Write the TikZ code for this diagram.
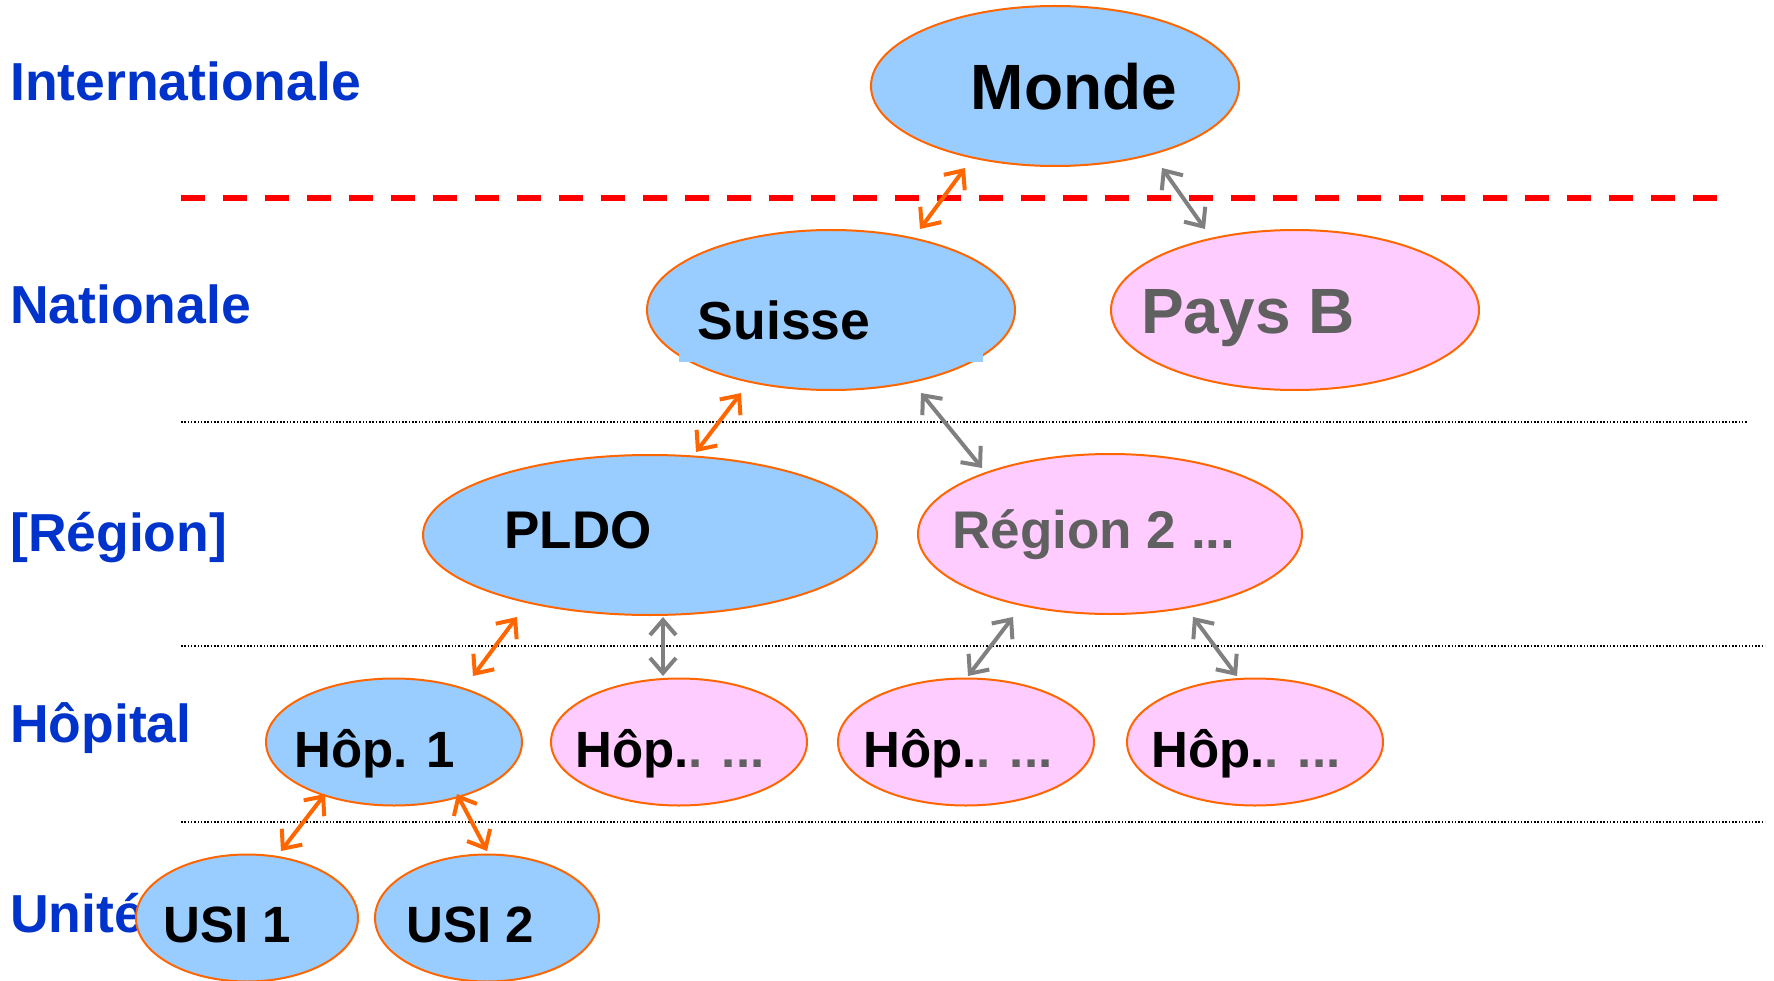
\documentclass[tikz,border=0pt]{standalone}
\usepackage{fontspec}
\setmainfont{Liberation Sans}
\usetikzlibrary{shapes.geometric,arrows.meta}
\definecolor{lblue}{HTML}{99CCFF}
\definecolor{lpink}{HTML}{FFCCFF}
\definecolor{bord}{HTML}{FF6600}
\definecolor{gtext}{HTML}{606060}
\definecolor{garrow}{HTML}{808080}
\definecolor{lvl}{HTML}{0033CC}
\definecolor{dred}{HTML}{FF0000}
\begin{document}
\begin{tikzpicture}[x=1pt,y=-1pt,
  blob/.style={ellipse, draw=bord, line width=2pt, inner sep=0pt},
  bluebl/.style={blob, fill=lblue},
  pinkbl/.style={blob, fill=lpink},
  lvllabel/.style={anchor=base west, inner sep=0pt, text=lvl, font=\fontsize{53.5}{60}\selectfont\bfseries},
  txt/.style={anchor=base, inner sep=0pt, font=\fontsize{#1}{#1}\selectfont\bfseries},
  link/.style={line width=4pt, line cap=round, line join=round,
    {Straight Barb[length=15pt,width=26pt]}-{Straight Barb[length=15pt,width=26pt]}},
  olink/.style={link, draw=bord},
  glink/.style={link, draw=garrow},
  sepline/.style={line width=1.3pt, dash pattern=on 1.5pt off 1.8pt},
  bigsep/.style={draw=dred, line width=6.5pt, dash pattern=on 24pt off 18pt}
]
\useasboundingbox (0,0) rectangle (1774,981);

% level labels
\node[lvllabel] (lint) at (10,101) {Internationale};
\node[lvllabel] (lnat) at (10,324) {Nationale};
\node[lvllabel] (lreg) at (10,551) {[Région]};
\node[lvllabel] (lhop) at (10,742) {Hôpital};
\node[lvllabel] (luni) at (10,932) {Unité};

% separators
\draw[bigsep] (181,198) -- (1720,198);
\draw[sepline] (181,422) -- (1748,422);
\draw[sepline] (181,646) -- (1765,646);
\draw[sepline] (181,822) -- (1765,822);

% ellipses
\node[bluebl, minimum width=368pt, minimum height=160pt] (monde) at (1055,86) {};
\node[bluebl, minimum width=368pt, minimum height=160pt] (suisse) at (831,310) {};
\fill[lblue] (679,280) rectangle (983,362);
\node[pinkbl, minimum width=368pt, minimum height=160pt] (paysb) at (1295,310) {};
\node[bluebl, minimum width=454pt, minimum height=160pt] (pldo) at (650,535) {};
\node[pinkbl, minimum width=384pt, minimum height=160pt] (reg2) at (1110,534) {};
\node[bluebl, minimum width=256pt, minimum height=127pt] (hop1) at (394,742) {};
\node[pinkbl, minimum width=256pt, minimum height=127pt] (hop2) at (679,742) {};
\node[pinkbl, minimum width=256pt, minimum height=127pt] (hop3) at (966,742) {};
\node[pinkbl, minimum width=256pt, minimum height=127pt] (hop4) at (1255,742) {};
\node[bluebl, minimum width=222pt, minimum height=127pt] (usi1) at (247,918) {};
\node[bluebl, minimum width=224pt, minimum height=127pt] (usi2) at (487,918) {};

% texts
\node[txt=64] (tmonde) at (1074,110) {Monde};
\node[txt=53.5] (tsuisse) at (784,340) {Suisse};
\node[txt=64, text=gtext] (tpaysb) at (1248,334) {Pays B};
\node[txt=53] (tpldo) at (578,548) {PLDO};
\node[txt=53, text=gtext] (treg2) at (1094,548) {Région 2 ...};
\node[txt=51] (thop1) at (375,767) {Hôp. 1};
\node[txt=51] (thop2) at (670,767) {Hôp.\textcolor{gtext}{. ...}};
\node[txt=51] (thop3) at (958,767) {Hôp.\textcolor{gtext}{. ...}};
\node[txt=51] (thop4) at (1246,767) {Hôp.\textcolor{gtext}{. ...}};
\node[txt=51] (tusi1) at (227,942) {USI 1};
\node[txt=51] (tusi2) at (470,942) {USI 2};

% connector ends
\coordinate (m-s) at (965,168);  \coordinate (s-m) at (920,229);
\coordinate (m-p) at (1162,168); \coordinate (p-m) at (1205,229);
\coordinate (s-pl) at (741,393); \coordinate (pl-s) at (696,452);
\coordinate (s-r) at (921,393);  \coordinate (r-s) at (982,468);
\coordinate (pl-h1) at (517,617); \coordinate (h1-pl) at (473,676);
\coordinate (pl-h2) at (663,617); \coordinate (h2-pl) at (663,676);
\coordinate (r-h3) at (1013,617); \coordinate (h3-r) at (968,676);
\coordinate (r-h4) at (1193,617); \coordinate (h4-r) at (1237,676);
\coordinate (h1-u1) at (325,794); \coordinate (u1-h1) at (281,851);
\coordinate (h1-u2) at (457,794); \coordinate (u2-h1) at (487,851);

% connectors
\draw[olink] (m-s) -- (s-m);
\draw[glink] (m-p) -- (p-m);
\draw[olink] (s-pl) -- (pl-s);
\draw[glink] (s-r) -- (r-s);
\draw[olink] (pl-h1) -- (h1-pl);
\draw[glink] (pl-h2) -- (h2-pl);
\draw[glink] (r-h3) -- (h3-r);
\draw[glink] (r-h4) -- (h4-r);
\draw[olink] (h1-u1) -- (u1-h1);
\draw[olink] (h1-u2) -- (u2-h1);
\end{tikzpicture}
\end{document}
